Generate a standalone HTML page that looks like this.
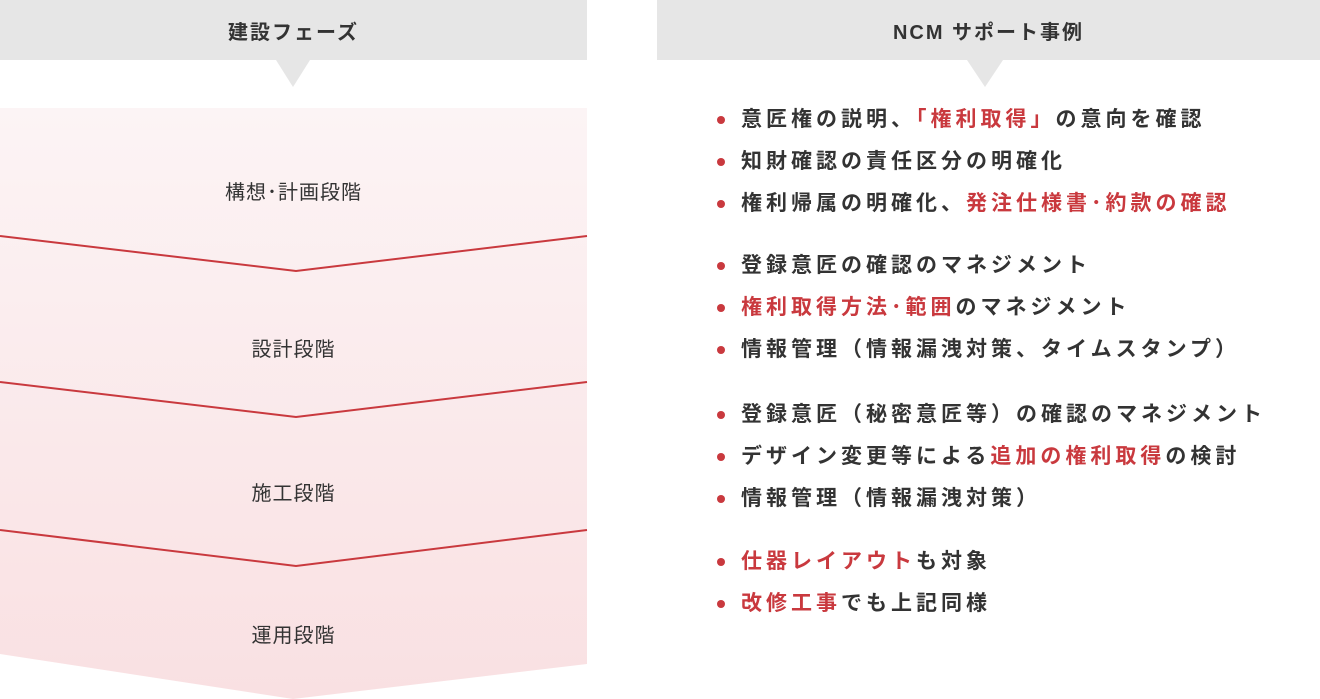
<!DOCTYPE html>
<html><head><meta charset="utf-8"><style>
body{margin:0;width:1320px;height:699px;position:relative;background:#fff;font-family:"Liberation Sans","Noto Sans CJK JP",sans-serif;overflow:hidden}
.hd{position:absolute;top:0;height:60px;background:#e6e6e6;display:flex;align-items:center;justify-content:center;font-size:20px;font-weight:bold;color:#333;letter-spacing:2px}
.lab{position:absolute;left:0;width:587px;text-align:center;font-size:20px;color:#333;letter-spacing:1px}
.li{position:absolute;left:717px;font-size:21px;font-weight:bold;color:#333;letter-spacing:4px;white-space:nowrap;line-height:24px}
.li:before{content:"";position:absolute;left:0;top:8px;width:8px;height:8px;border-radius:50%;background:#c9393e}
.li span.t{margin-left:24px}
.r{color:#c9393e}
</style></head><body>
<div class="hd" style="left:0;width:587px">建設フェーズ</div>
<div class="hd" style="left:657px;width:663px">NCM サポート事例</div>
<svg width="1320" height="699" style="position:absolute;left:0;top:0">
<defs><linearGradient id="g" x1="0" y1="0" x2="0" y2="1"><stop offset="0" stop-color="#fcf4f5"/><stop offset="1" stop-color="#f9e0e2"/></linearGradient></defs>
<polygon points="276,60 310,60 293,87" fill="#e6e6e6"/>
<polygon points="967,60 1003,60 985,87" fill="#e6e6e6"/>
<polygon points="0,108 587,108 587,664 293,699 0,654" fill="url(#g)"/>
<polyline points="0,236 296,271 587,236" fill="none" stroke="#c9393e" stroke-width="2"/>
<polyline points="0,382 296,417 587,382" fill="none" stroke="#c9393e" stroke-width="2"/>
<polyline points="0,530 296,566 587,530" fill="none" stroke="#c9393e" stroke-width="2"/>
</svg>
<div class="lab" style="top:176px">構想･計画段階</div>
<div class="lab" style="top:333px">設計段階</div>
<div class="lab" style="top:477px">施工段階</div>
<div class="lab" style="top:619px">運用段階</div>
<div class="li" style="top:108px"><span class="t">意匠権の説明、<span class="r">「権利取得」</span>の意向を確認</span></div>
<div class="li" style="top:150px"><span class="t">知財確認の責任区分の明確化</span></div>
<div class="li" style="top:192px"><span class="t">権利帰属の明確化、<span class="r">発注仕様書･約款の確認</span></span></div>
<div class="li" style="top:254px"><span class="t">登録意匠の確認のマネジメント</span></div>
<div class="li" style="top:296px"><span class="t"><span class="r">権利取得方法･範囲</span>のマネジメント</span></div>
<div class="li" style="top:338px"><span class="t">情報管理（情報漏洩対策、タイムスタンプ）</span></div>
<div class="li" style="top:403px"><span class="t">登録意匠（秘密意匠等）の確認のマネジメント</span></div>
<div class="li" style="top:445px"><span class="t">デザイン変更等による<span class="r">追加の権利取得</span>の検討</span></div>
<div class="li" style="top:487px"><span class="t">情報管理（情報漏洩対策）</span></div>
<div class="li" style="top:550px"><span class="t"><span class="r">仕器レイアウト</span>も対象</span></div>
<div class="li" style="top:592px"><span class="t"><span class="r">改修工事</span>でも上記同様</span></div>
</body></html>
